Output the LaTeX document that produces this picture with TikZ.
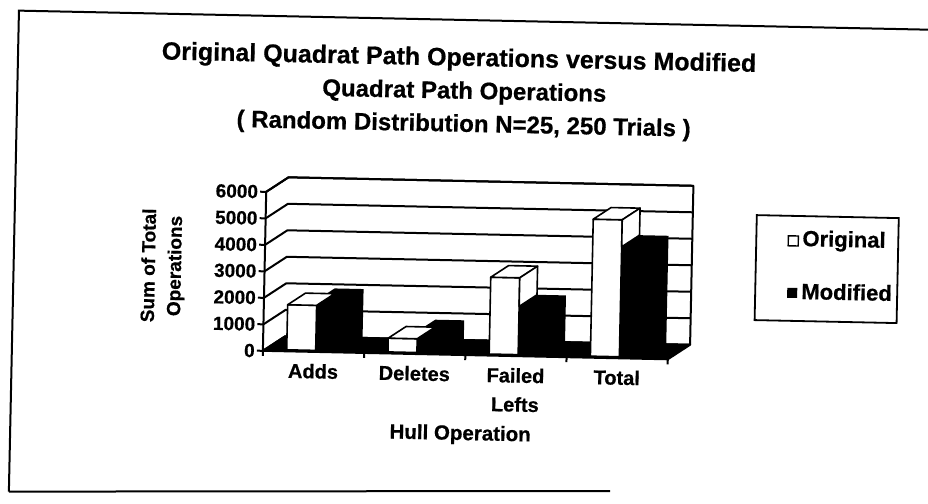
\documentclass[tikz,border=0pt]{standalone}
\usepackage{fontspec}
\setmainfont{Liberation Sans}[BoldFeatures={FakeBold=0.6}]
\begin{document}
\begin{tikzpicture}[x=1pt,y=-1pt,
  ttl/.style={font=\bfseries\fontsize{24}{29}\selectfont, inner sep=0pt, anchor=base},
  ticklabel/.style={font=\bfseries\fontsize{19}{22}\selectfont, inner sep=0pt, anchor=east},
  catlabel/.style={font=\bfseries\fontsize{20}{24}\selectfont, inner sep=0pt, anchor=base},
  leglabel/.style={font=\bfseries\fontsize{22}{26}\selectfont, inner sep=0pt, anchor=base west},
  axistitle/.style={font=\bfseries\fontsize{19}{22}\selectfont, inner sep=0pt},
  frameline/.style={line width=2pt},
  gridline/.style={line width=2pt, line join=round},
  baroutline/.style={line width=1.6pt, fill=white, line join=round},
]
\useasboundingbox (0,0) rectangle (928,503);
\fill[white] (0,0) rectangle (928,503);
\begin{scope}
\clip (0,0) rectangle (928,503);
\draw[frameline] (8.8,491.6) -- (610,491);
\begin{scope}[rotate around={-1.2:(464,251)}, transform shape]
  % outer frame
  \draw[frameline] (14,501) -- (14,20) -- (990,20);
  % title
  \node[ttl, font=\bfseries\fontsize{25}{29}\selectfont] (t1) at (455,65.8) {Original Quadrat Path Operations versus Modified};
  \node[ttl] (t2) at (461,98.8) {Quadrat Path Operations};
  \node[ttl] (t3) at (461,131.8) {( Random Distribution N=25, 250 Trials )};
  % gridlines on side wall and back wall, ticks and labels
  \foreach \k in {0,...,6} {
    \pgfmathsetmacro\yf{355-26.5*\k}
    \pgfmathtruncatemacro\val{1000*\k}
    \draw[gridline] (265,\yf) -- (287,\yf-15) -- (692,\yf-15);
    \draw[gridline] (259,\yf) -- (265,\yf);
    \node[ticklabel] (y\k) at (257,\yf) {\val};
  }
  % walls outline
  \draw[gridline] (265,355) -- (265,196) -- (287,181) -- (692,181) -- (692,340);
  % floor
  \filldraw[gridline] (265,355) -- (670,355) -- (692,340) -- (287,340) -- cycle;
  \foreach \i in {0,...,4} \draw[gridline] (265+101.25*\i,355) -- ++(0,5);
  % bars
  \foreach \i/\vo/\vm/\side in {0/1700/1900/0, 1/520/800/0, 2/2900/1820/1, 3/5170/4150/1} {
    \pgfmathsetmacro\xo{265+101.25*\i+23.8}
    \pgfmathsetmacro\xm{\xo+29}
    \pgfmathsetmacro\xe{\xm+29}
    \pgfmathsetmacro\yo{353.5-0.0265*\vo}
    \pgfmathsetmacro\ym{353.5-0.0265*\vm}
    \fill[black] (\xm,353.5) -- (\xm,\ym) -- (\xm+17.6,\ym-12) -- (\xe+17.6,\ym-12) -- (\xe+17.6,341.5) -- (\xe,353.5) -- cycle;
    \draw[baroutline] (\xo,353.5) rectangle (\xm,\yo);
    \draw[baroutline] (\xo,\yo) -- (\xm,\yo) -- (\xm+17.6,\yo-12) -- (\xo+17.6,\yo-12) -- cycle;
    \ifnum\side=1
      \draw[baroutline] (\xm,\yo) -- (\xm+17.6,\yo-12) -- (\xm+17.6,\ym-12) -- (\xm,\ym) -- cycle;
    \fi
  }
  % category labels
  \node[catlabel] (cadds) at (315.6,381.5) {Adds};
  \node[catlabel] (cdel) at (416.9,381.5) {Deletes};
  \node[catlabel] (cfail) at (518.1,381.5) {Failed};
  \node[catlabel] (cleft) at (518.1,410.5) {Lefts};
  \node[catlabel] (ctot) at (619.4,381.5) {Total};
  \node[catlabel, font=\bfseries\fontsize{20.5}{24}\selectfont] (hull) at (464,440) {Hull Operation};
  % y axis title
  \node[axistitle, rotate=90] (yt1) at (148.5,272) {Sum of Total};
  \node[axistitle, rotate=90] (yt2) at (176.5,272) {Operations};
  % legend
  \draw[line width=1.8pt] (756,209) rectangle (898,314);
  \draw[line width=1.4pt, fill=white] (788,229) rectangle (798,239);
  \node[leglabel] (lo) at (802,239) {Original};
  \fill (788,281) rectangle (798,291);
  \node[leglabel] (lm) at (802,292) {Modified};
\end{scope}
\end{scope}
\end{tikzpicture}
\end{document}
